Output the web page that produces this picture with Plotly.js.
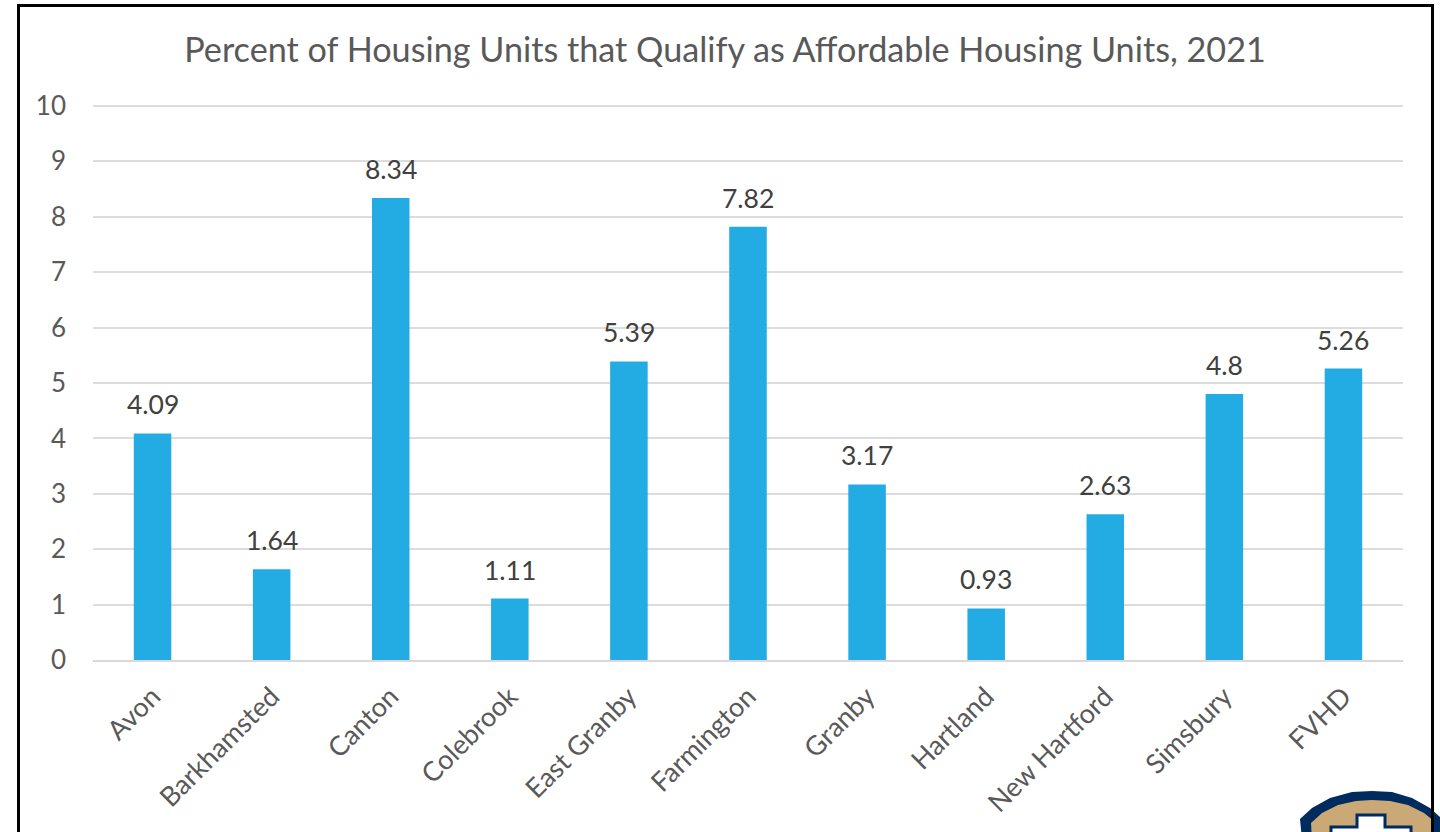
<!DOCTYPE html>
<html>
<head>
<meta charset="utf-8">
<script src="https://cdn.plot.ly/plotly-3.0.1.min.js"></script>
<style>html,body{margin:0;padding:0;background:#fff;overflow:hidden}</style>
</head>
<body>
<div id="chart" style="width:1440px;height:832px"></div>
<script>
const towns = ["Avon","Barkhamsted","Canton","Colebrook","East Granby","Farmington","Granby","Hartland","New Hartford","Simsbury","FVHD"];
const percents = [4.09,1.64,8.34,1.11,5.39,7.82,3.17,0.93,2.63,4.8,5.26];
const percentLabels = ["4.09","1.64","8.34","1.11","5.39","7.82","3.17","0.93","2.63","4.8","5.26"];
const yTicks = [0,1,2,3,4,5,6,7,8,9,10];
const chartTitle = "Percent of Housing Units that Qualify as Affordable Housing Units, 2021";

const W = 1440, H = 832, mL = 93, mR = 37, mT = 104, mB = 172;
const px = x => (x - mL) / (W - mL - mR);
const py = y => (H - mB - y) / (H - mT - mB);
const path = pts => pts.map((p,i)=>(i? 'L':'M')+px(p[0]).toFixed(5)+','+py(p[1]).toFixed(5)).join(' ')+' Z';
const FONT = 'Lato, Carlito, sans-serif';

const trace = {
  type:'bar', x:towns, y:percents,
  cliponaxis:false,
  marker:{color:'#22ACE3',line:{width:0}},
  hoverinfo:'x+y'
};
const layout = {
  width:W,height:H,autosize:false,showlegend:false,
  paper_bgcolor:'#fff',plot_bgcolor:'#fff',
  margin:{l:mL,r:mR,t:mT,b:mB,pad:0},
  font:{family:FONT,color:'#595959'},
  title:{text:chartTitle,font:{size:34.2,color:'#595959',family:FONT},x:725/W,xanchor:'center',y:1-50/H,yanchor:'middle'},
  bargap:0.685,
  xaxis:{type:'category',tickangle:-45,tickfont:{size:27,color:'#595959'},ticks:'',showgrid:false,zeroline:false,showline:true,linecolor:'#D9D9D9',linewidth:2,automargin:false,ticklabelstandoff:8},
  yaxis:{range:[0,10.036],tickvals:yTicks,ticktext:yTicks.map(String),tickfont:{size:26,color:'#595959'},ticks:'',showgrid:true,gridcolor:'#DCDCDC',gridwidth:2,zeroline:false,showline:false,ticklabelstandoff:26,automargin:false},
  annotations:towns.map((t,i)=>({x:t,y:percents[i],xref:'x',yref:'y',text:percentLabels[i],showarrow:false,xanchor:'center',yanchor:'bottom',yshift:11,font:{family:FONT,size:26.5,color:'#404040'}})),
  shapes:[
    {type:'path',xref:'paper',yref:'paper',layer:'above',line:{width:0},fillcolor:'#002B5F',
     path:path([[1300,819],[1312,808],[1330,798],[1352,792],[1372,791],[1392,792],[1412,798],[1430,808],[1440,817],[1440,840],[1302,840]])},
    {type:'path',xref:'paper',yref:'paper',layer:'above',line:{width:0},fillcolor:'#CBA977',
     path:path([[1311,823],[1322,813],[1338,805],[1356,801],[1372,800],[1390,801],[1408,805],[1424,813],[1434,821],[1434,840],[1312,840]])},
    {type:'path',xref:'paper',yref:'paper',layer:'above',line:{color:'#002B5F',width:3},fillcolor:'#fff',
     path:path([[1357,815],[1385,815],[1385,827],[1411,827],[1411,845],[1331,845],[1331,827],[1357,827]])},
    {type:'path',xref:'paper',yref:'paper',layer:'above',line:{color:'#000',width:3},fillcolor:'rgba(0,0,0,0)',
     path:'M'+px(18.5)+','+py(5.5)+' L'+px(1432.5)+','+py(5.5)+' L'+px(1432.5)+','+py(840)+' L'+px(18.5)+','+py(840)+' Z'}
  ]
};
Plotly.newPlot('chart',[trace],layout,{displayModeBar:false,responsive:false});
</script>
</body>
</html>
